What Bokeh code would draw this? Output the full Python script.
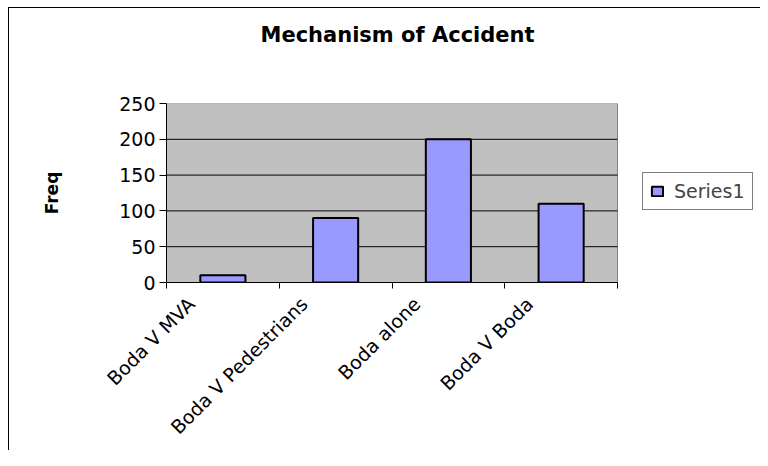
import math
from bokeh.plotting import figure
from bokeh.models import (Range1d, FixedTicker, ColumnDataSource, Legend, LegendItem,
                          LinearAxis)
from bokeh.embed import file_html
from bokeh.resources import INLINE

categories = ["Boda V MVA", "Boda V Pedestrians", "Boda alone", "Boda V Boda"]
freq = [10, 90, 200, 110]
series_name = "Series1"
y_ticks = [0, 50, 100, 150, 200, 250]
y_max = 250

FONT = "DejaVu Sans"

# layout (pixels)
W, H = 760, 450
PLOT_LEFT, PLOT_RIGHT, PLOT_TOP, PLOT_BOTTOM = 166, 617, 103, 282
n = len(categories)
px_per_x = (PLOT_RIGHT - PLOT_LEFT) / n
x_end = (W - PLOT_LEFT) / px_per_x
label_shift = -0.28

xpos = [i + 0.5 for i in range(n)]
src = ColumnDataSource(dict(x=xpos, top=freq))

p = figure(width=W, height=H, output_backend="svg", toolbar_location=None,
           x_range=Range1d(0, x_end), y_range=Range1d(0, y_max),
           min_border_left=PLOT_LEFT, min_border_right=0, min_border_top=PLOT_TOP,
           min_border_bottom=H - PLOT_BOTTOM, title="Mechanism of Accident")
p.styles = {
    "background": "linear-gradient(#000,#000) 8px 7px / 1px 100% no-repeat, "
                  "linear-gradient(#000,#000) 8px 7px / 100% 1px no-repeat, #fff"
}
p.border_fill_alpha = 0
p.background_fill_color = "white"
p.outline_line_color = None
p.xgrid.visible = False
p.ygrid.visible = False

xa = p.below[0]
ya = p.left[0]

# plot area
p.quad(left=0, right=n, bottom=0, top=y_max, fill_color="#C0C0C0",
       line_color="#808080", line_width=1)
grid_vals = y_ticks[1:-1]
p.segment(x0=[0] * len(grid_vals), x1=[n] * len(grid_vals), y0=grid_vals,
          y1=grid_vals, line_color="black", line_width=1)

r = p.vbar(x="x", top="top", width=0.4, source=src, fill_color="#9999FF",
           line_color="black", line_width=2)

# blank spacer (white tick, empty label) between plot area and title
spacer = LinearAxis(ticker=FixedTicker(ticks=[0]), major_label_overrides={0: ""},
                    major_tick_out=52, major_tick_in=0,
                    major_tick_line_color="white", axis_line_color=None,
                    minor_tick_out=0, minor_tick_in=0, major_label_standoff=0)
p.add_layout(spacer, "above")

p.title.text_font = FONT
p.title.text_font_size = "21px"
p.title.text_font_style = "bold"
p.title.text_color = "black"
p.title.align = "left"
p.title.offset = 94
p.title.standoff = 10

xa.bounds = (0, n)
xa.ticker = FixedTicker(ticks=[x + label_shift for x in xpos],
                        minor_ticks=list(range(n + 1)))
xa.major_label_overrides = {x + label_shift: c for x, c in zip(xpos, categories)}
xa.major_label_orientation = math.pi / 4
xa.major_tick_out = 0
xa.major_tick_in = 0
xa.minor_tick_out = 6
xa.minor_tick_in = 0
xa.minor_tick_line_color = "black"
xa.axis_line_color = "black"
xa.major_label_text_font = FONT
xa.major_label_text_font_size = "19px"
xa.major_label_text_color = "black"
xa.major_label_standoff = 12

ya.bounds = (0, y_max)
ya.ticker = FixedTicker(ticks=y_ticks)
ya.major_tick_out = 7
ya.major_tick_in = 0
ya.minor_tick_out = 0
ya.minor_tick_in = 0
ya.major_tick_line_color = "black"
ya.axis_line_color = "black"
ya.major_label_text_font = FONT
ya.major_label_text_font_size = "19px"
ya.major_label_text_color = "black"
ya.major_label_standoff = 4
ya.axis_label = "Freq"
ya.axis_label_text_font = FONT
ya.axis_label_text_font_size = "17px"
ya.axis_label_text_font_style = "bold"
ya.axis_label_text_color = "black"
ya.axis_label_standoff = 54

legend = Legend(items=[LegendItem(label=series_name, renderers=[r])],
                location=(476, 72))
legend.border_line_color = "black"
legend.border_line_width = 1
legend.background_fill_color = "white"
legend.background_fill_alpha = 1
legend.glyph_width = 14
legend.glyph_height = 12
legend.label_standoff = 10
legend.label_text_font = FONT
legend.label_text_font_size = "19px"
legend.label_height = 20
legend.padding = 7
legend.margin = 0
p.add_layout(legend, "center")

open("out.html", "w").write(file_html(p, INLINE))
